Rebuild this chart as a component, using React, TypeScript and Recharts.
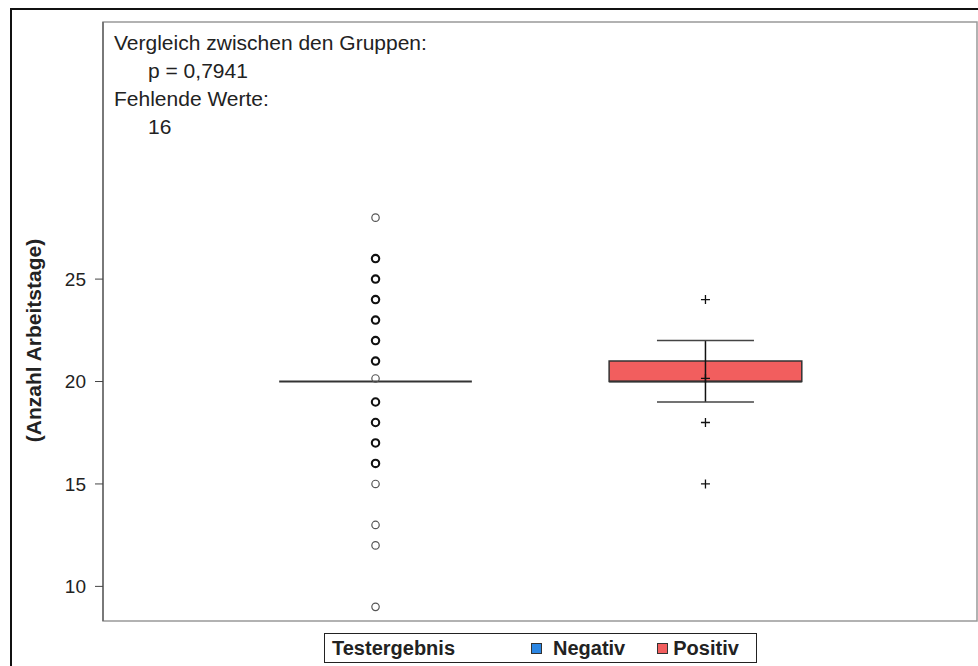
import {
  ComposedChart,
  Scatter,
  XAxis,
  YAxis,
  ReferenceArea,
  ReferenceLine,
  Legend,
  Label,
} from "recharts"

// Boxplot: Anzahl Arbeitstage nach Testergebnis
const groups = ["Negativ", "Positiv"]
const groupColors = ["#2b86e3", "#f25e5e"]
const groupPos = [1, 2]
const q1 = [20, 20]
const median = [20, 20]
const q3 = [20, 21]
const whiskerLow = [20, 19]
const whiskerHigh = [20, 22]
const means = [20.15, 20.15]

const negOutliers = [28, 26, 25, 24, 23, 22, 21, 19, 18, 17, 16, 15, 13, 12, 9]
const negCounts = [1, 3, 2, 3, 3, 3, 3, 3, 3, 2, 2, 1, 1, 1, 1]
const posOutliers = [24, 18, 15]

const yTicks = [10, 15, 20, 25]
const yDomain = [8.31, 37.55]
const xDomain = [0.174, 2.823]

const infoLines = [
  { text: "Vergleich zwischen den Gruppen:", indent: false },
  { text: "p = 0,7941", indent: true },
  { text: "Fehlende Werte:", indent: false },
  { text: "16", indent: true },
]

const boxHalf = 0.292
const capHalf = 0.147
const font = "'Liberation Sans', Arial, sans-serif"

const negData = [
  ...negOutliers.map((v, i) => ({ x: groupPos[0], y: v, n: negCounts[i] })),
  { x: groupPos[0], y: means[0], n: 1 },
]
const posData = [
  ...posOutliers.map((v) => ({ x: groupPos[1], y: v })),
  { x: groupPos[1], y: means[1] },
]

const Circle = (p: any) => {
  const bold = p.payload && p.payload.n > 1
  return (
    <circle
      cx={p.cx}
      cy={p.cy}
      r={3.7}
      fill="none"
      stroke={bold ? "#111" : "#555"}
      strokeWidth={bold ? 2.1 : 1.2}
    />
  )
}

const Plus = (p: any) => (
  <path
    d={`M${p.cx - 4.5},${p.cy}H${p.cx + 4.5}M${p.cx},${p.cy - 4.5}V${p.cy + 4.5}`}
    stroke="#111"
    strokeWidth={1.3}
  />
)

const swatchGap = [11, 5]

const LegendBox = () => (
  <div
    style={{
      boxSizing: "border-box",
      width: 433,
      height: 30,
      border: "1.5px solid #222",
      background: "#fff",
      display: "flex",
      alignItems: "center",
      fontFamily: font,
      fontWeight: "bold",
      fontSize: 20,
      color: "#222",
      paddingLeft: 7,
      whiteSpace: "nowrap",
    }}
  >
    <span style={{ width: 199, flexShrink: 0 }}>Testergebnis</span>
    {groups.map((g, i) => (
      <span
        key={g}
        style={{
          display: "flex",
          alignItems: "center",
          flexShrink: 0,
          marginRight: i === 0 ? 32 : 0,
        }}
      >
        <span
          style={{
            display: "inline-block",
            width: 9,
            height: 9,
            background: groupColors[i],
            border: "1px solid #333",
            marginRight: swatchGap[i],
          }}
        />
        {g}
      </span>
    ))}
  </div>
)

export default function App() {
  return (
    <div
      style={{
        position: "absolute",
        left: 0,
        top: 0,
        width: 978,
        height: 666,
        overflow: "hidden",
        background: "#fff",
      }}
    >
      <div
        style={{
          position: "absolute",
          left: 10,
          top: 8,
          width: 980,
          height: 700,
          borderTop: "2.5px solid #111",
          borderLeft: "2.5px solid #111",
        }}
      />
      <ComposedChart
        width={978}
        height={666}
        margin={{ top: 22, right: 1, bottom: 45, left: 43 }}
        style={{ position: "absolute", left: 0, top: 0 }}
      >
        <XAxis dataKey="x" type="number" domain={xDomain} hide />
        <YAxis
          dataKey="y"
          type="number"
          domain={yDomain}
          ticks={yTicks}
          width={60}
          allowDataOverflow
          tickSize={8}
          tickMargin={9}
          axisLine={{ stroke: "#666", strokeWidth: 1.5 }}
          tickLine={{ stroke: "#444" }}
          tick={{ fill: "#222", fontSize: 19, fontFamily: font }}
        >
          <Label
            content={(props: any) => {
              const vb = props.viewBox || { x: 43, y: 22, height: 598 }
              const cx = vb.x - 10
              const cy = vb.y + vb.height / 2 + 19
              return (
                <text
                  x={cx}
                  y={cy}
                  transform={`rotate(-90 ${cx} ${cy})`}
                  textAnchor="middle"
                  dominantBaseline="central"
                  fontFamily={font}
                  fontWeight="bold"
                  fontSize={21}
                  fill="#222"
                >
                  (Anzahl Arbeitstage)
                </text>
              )
            }}
          />
        </YAxis>
        <ReferenceArea
          x1={xDomain[0]}
          x2={xDomain[1]}
          y1={yDomain[0]}
          y2={yDomain[1]}
          fill="none"
          stroke="#999"
          strokeWidth={1.5}
        />
        {groups.map((g, i) => (
          <ReferenceArea
            key={g + "box"}
            x1={groupPos[i] - boxHalf}
            x2={groupPos[i] + boxHalf}
            y1={q1[i]}
            y2={q3[i]}
            fill={groupColors[i]}
            fillOpacity={q3[i] > q1[i] ? 1 : 0}
            stroke="#333"
            strokeWidth={q3[i] > q1[i] ? 1.5 : 0}
          />
        ))}
        {groups.map((g, i) => (
          <ReferenceLine
            key={g + "med"}
            segment={[
              { x: groupPos[i] - boxHalf, y: median[i] },
              { x: groupPos[i] + boxHalf, y: median[i] },
            ]}
            stroke="#333"
            strokeWidth={2}
          />
        ))}
        {groups.map((g, i) =>
          whiskerHigh[i] > whiskerLow[i] ? (
            <ReferenceLine
              key={g + "wh"}
              segment={[
                { x: groupPos[i], y: whiskerLow[i] },
                { x: groupPos[i], y: whiskerHigh[i] },
              ]}
              stroke="#111"
              strokeWidth={1.5}
            />
          ) : null
        )}
        {groups.map((g, i) =>
          whiskerHigh[i] > whiskerLow[i] ? (
            <ReferenceLine
              key={g + "capH"}
              segment={[
                { x: groupPos[i] - capHalf, y: whiskerHigh[i] },
                { x: groupPos[i] + capHalf, y: whiskerHigh[i] },
              ]}
              stroke="#444"
              strokeWidth={1.5}
            />
          ) : null
        )}
        {groups.map((g, i) =>
          whiskerHigh[i] > whiskerLow[i] ? (
            <ReferenceLine
              key={g + "capL"}
              segment={[
                { x: groupPos[i] - capHalf, y: whiskerLow[i] },
                { x: groupPos[i] + capHalf, y: whiskerLow[i] },
              ]}
              stroke="#444"
              strokeWidth={1.5}
            />
          ) : null
        )}
        <Scatter
          name="Negativ"
          data={negData}
          shape={Circle}
          isAnimationActive={false}
        />
        <Scatter
          name="Positiv"
          data={posData}
          shape={Plus}
          isAnimationActive={false}
        />
        <Legend
          layout="horizontal"
          verticalAlign="middle"
          align="center"
          content={() => <LegendBox />}
          wrapperStyle={{ left: 324, top: 633, width: 433, height: 30 }}
        />
      </ComposedChart>
      <div
        style={{
          position: "absolute",
          left: 114,
          top: 29,
          fontFamily: font,
          fontSize: 21,
          lineHeight: "28px",
          color: "#222",
          whiteSpace: "nowrap",
        }}
      >
        {infoLines.map((l) => (
          <div key={l.text} style={{ paddingLeft: l.indent ? 34 : 0 }}>
            {l.text}
          </div>
        ))}
      </div>
    </div>
  )
}
